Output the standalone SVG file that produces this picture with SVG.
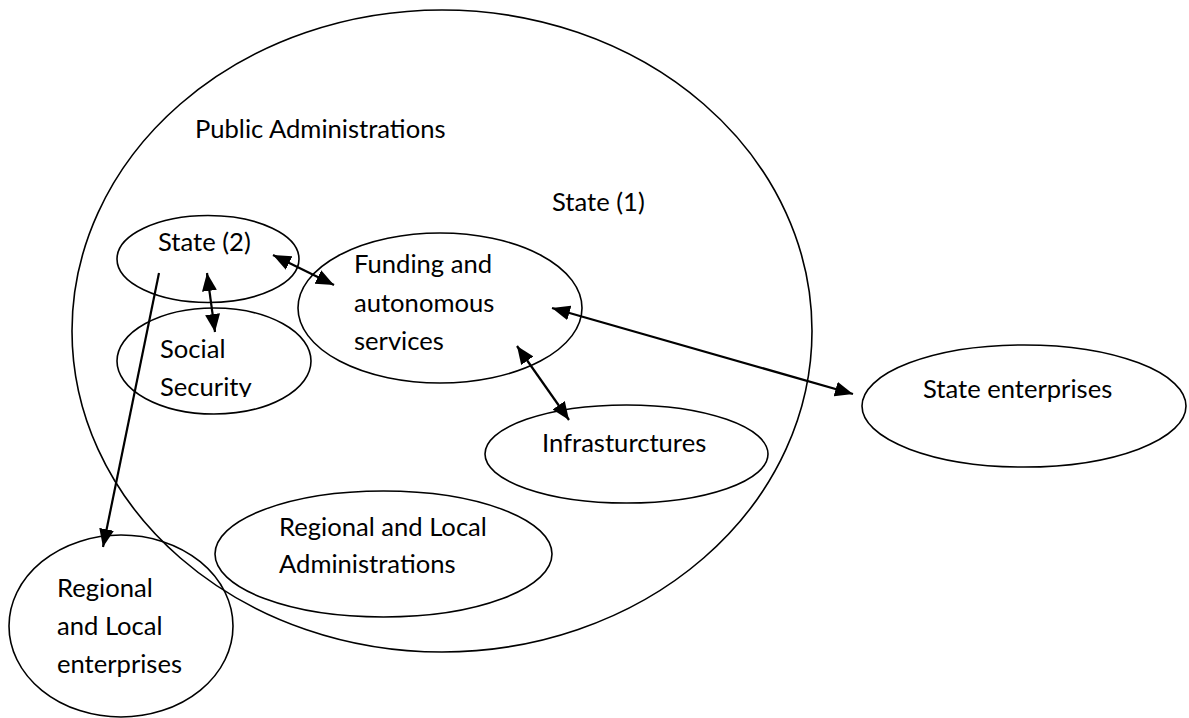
<svg xmlns="http://www.w3.org/2000/svg" width="1189" height="718" viewBox="0 0 1189 718">
<style>
.n{fill:none;stroke:#000;stroke-width:1.6}
.t{font-family:Lato,"Liberation Sans",sans-serif;font-size:25.6px;fill:#000}
.c{stroke:#000;stroke-width:2.2;fill:none}
</style>
<defs>
<marker id="ah" markerUnits="userSpaceOnUse" markerWidth="20" markerHeight="16" refX="18" refY="7.5" orient="auto-start-reverse" viewBox="0 0 20 16">
<path d="M0,0 L18,7.5 L0,15 z" fill="#000"/>
</marker>
<clipPath id="ssclip"><rect x="100" y="300" width="220" height="97"/></clipPath>
</defs>
<rect width="1189" height="718" fill="#fff"/>
<g id="public-admin">
<ellipse class="n" cx="442" cy="331" rx="370" ry="321"/>
<text class="t" x="195" y="138">Public Administrations</text>
<text class="t" x="552" y="211">State (1)</text>
</g>
<g id="state2">
<ellipse class="n" cx="208" cy="259" rx="91" ry="43.5"/>
<text class="t" x="158" y="251">State (2)</text>
</g>
<g id="social-security">
<ellipse class="n" cx="214" cy="361" rx="97" ry="53"/>
<g clip-path="url(#ssclip)">
<text class="t" x="160" y="358">Social</text>
<text class="t" x="160" y="396">Security</text>
</g>
</g>
<g id="funding">
<ellipse class="n" cx="440" cy="308" rx="142" ry="75"/>
<text class="t" x="354" y="273">Funding and</text>
<text class="t" x="354" y="312">autonomous</text>
<text class="t" x="354" y="350">services</text>
</g>
<g id="infrastructures">
<ellipse class="n" cx="626.5" cy="454" rx="141.5" ry="49"/>
<text class="t" x="542" y="452">Infrasturctures</text>
</g>
<g id="regional-admin">
<ellipse class="n" cx="383.5" cy="554" rx="168.5" ry="63"/>
<text class="t" x="279" y="536">Regional and Local</text>
<text class="t" x="279" y="573">Administrations</text>
</g>
<g id="regional-enterprises">
<ellipse class="n" cx="121" cy="626" rx="112" ry="91"/>
<text class="t" x="57" y="597">Regional</text>
<text class="t" x="57" y="635">and Local</text>
<text class="t" x="57" y="673">enterprises</text>
</g>
<g id="state-enterprises">
<ellipse class="n" cx="1024" cy="406" rx="162" ry="61"/>
<text class="t" x="923" y="398">State enterprises</text>
</g>
<g id="connectors">
<line class="c" x1="273" y1="255" x2="334" y2="285" marker-start="url(#ah)" marker-end="url(#ah)"/>
<line class="c" x1="207" y1="273" x2="215" y2="332" marker-start="url(#ah)" marker-end="url(#ah)"/>
<line class="c" x1="552" y1="308" x2="853" y2="394" marker-start="url(#ah)" marker-end="url(#ah)"/>
<line class="c" x1="517" y1="346" x2="569" y2="420" marker-start="url(#ah)" marker-end="url(#ah)"/>
<line class="c" x1="159" y1="273" x2="103" y2="547" marker-end="url(#ah)"/>
</g>
</svg>
